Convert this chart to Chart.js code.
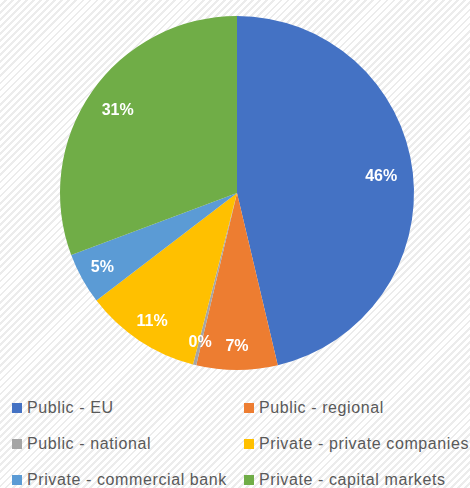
<!DOCTYPE html>
<html>
<head>
<meta charset="utf-8">
<script src="https://cdn.jsdelivr.net/npm/chart.js@4/dist/chart.umd.min.js"></script>
<style>
  html, body {
    margin: 0;
    padding: 0;
  }
  body {
    width: 470px;
    height: 488px;
    overflow: hidden;
    background-color: #f4f4f4;
    background-image: repeating-linear-gradient(135deg, #ffffff 0px, #ffffff 3px, #ececec 3px, #ececec 5px);
    font-family: "Liberation Sans", Arial, sans-serif;
  }
  #wrap {
    position: relative;
    width: 470px;
    height: 388px;
  }
  #legend {
    position: absolute;
    left: 0;
    top: 399px;
    width: 470px;
  }
  .item {
    position: absolute;
    display: flex;
    align-items: center;
    font-size: 16px;
    color: #595959;
    white-space: nowrap;
    letter-spacing: 0.6px;
  }
  .box {
    width: 10px;
    height: 10px;
    margin-right: 5px;
  }
</style>
</head>
<body>
<div id="wrap"><canvas id="myChart" width="470" height="388"></canvas></div>
<div id="legend"></div>

<script>
// data
let labels = [
  "Public - EU",
  "Public - regional",
  "Public - national",
  "Private - private companies",
  "Private - commercial bank",
  "Private - capital markets",
];
let shares = [46.3, 7.4, 0.3, 10.6, 4.7, 30.7];
let colors = ["#4472C4", "#ED7D31", "#A5A5A5", "#FFC000", "#5B9BD5", "#70AD47"];

// percent labels inside slices (big slices sit a bit further in)
const pctLabels = {
  id: "pctLabels",
  afterDatasetsDraw(chart) {
    let ctx = chart.ctx;
    let meta = chart.getDatasetMeta(0);
    let total = shares.reduce((a, b) => a + b, 0);
    ctx.save();
    ctx.fillStyle = "#ffffff";
    ctx.font = "bold 16px 'Liberation Sans', Arial, sans-serif";
    ctx.textAlign = "center";
    ctx.textBaseline = "middle";
    meta.data.forEach((arc, i) => {
      let p = arc.getProps(["x", "y", "startAngle", "endAngle", "outerRadius"], true);
      let mid = (p.startAngle + p.endAngle) / 2;
      let pct = (shares[i] / total) * 100;
      let r = p.outerRadius * (pct > 20 ? 0.82 : 0.87);
      let x = p.x + Math.cos(mid) * r;
      let y = p.y + Math.sin(mid) * r;
      ctx.fillText(Math.round(pct) + "%", x, y);
    });
    ctx.restore();
  },
};

const ctx = document.getElementById("myChart");

new Chart(ctx, {
  type: "pie",
  data: {
    labels: labels,
    datasets: [
      {
        data: shares,
        backgroundColor: colors,
        borderWidth: 0,
      },
    ],
  },
  options: {
    responsive: false,
    animation: false,
    layout: {
      padding: { left: 60, right: 56, top: 16, bottom: 18 },
    },
    plugins: {
      legend: { display: false },
      tooltip: { enabled: false },
    },
  },
  plugins: [pctLabels],
});

// legend in two columns
let legend = document.getElementById("legend");
labels.forEach((name, i) => {
  let item = document.createElement("div");
  item.className = "item";
  item.style.left = (i % 2 == 0 ? 12 : 244) + "px";
  item.style.top = Math.floor(i / 2) * 36 + "px";
  item.innerHTML = '<span class="box" style="background:' + colors[i] + '"></span>' + name;
  legend.appendChild(item);
});
</script>
</body>
</html>
